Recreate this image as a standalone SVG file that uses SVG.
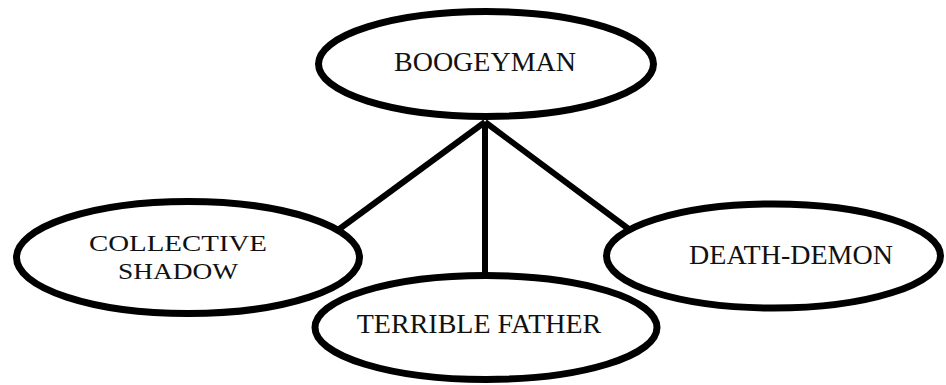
<svg xmlns="http://www.w3.org/2000/svg" width="946" height="385" viewBox="0 0 946 385">
<style>
.node ellipse{fill:#fff;stroke:#000;stroke-width:7}
.node text{font-family:"Liberation Serif","Times New Roman",serif;font-size:28px;fill:#111;text-anchor:middle}
.node text.tight{font-size:24px}
.edges line{stroke:#000;stroke-width:6;stroke-linecap:butt}
</style>
<rect width="946" height="385" fill="#fff"/>
<g class="edges">
<line x1="485" y1="122" x2="338" y2="230"/>
<line x1="485" y1="122" x2="630" y2="230"/>
<line x1="485" y1="122" x2="485" y2="274"/>
</g>
<g id="boogeyman" class="node">
<ellipse cx="486" cy="64" rx="167.5" ry="52.5"/>
<text x="485" y="71">BOOGEYMAN</text>
</g>
<g id="collective-shadow" class="node">
<ellipse cx="188" cy="257.5" rx="171.5" ry="56"/>
<text class="tight" x="178" y="251" textLength="178" lengthAdjust="spacingAndGlyphs">COLLECTIVE</text>
<text class="tight" x="178" y="279" textLength="120" lengthAdjust="spacingAndGlyphs">SHADOW</text>
</g>
<g id="death-demon" class="node">
<ellipse cx="773.5" cy="256" rx="167" ry="52"/>
<text x="791" y="264">DEATH-DEMON</text>
</g>
<g id="terrible-father" class="node">
<ellipse cx="486" cy="327.5" rx="171" ry="52"/>
<text x="479" y="333">TERRIBLE FATHER</text>
</g>
</svg>
